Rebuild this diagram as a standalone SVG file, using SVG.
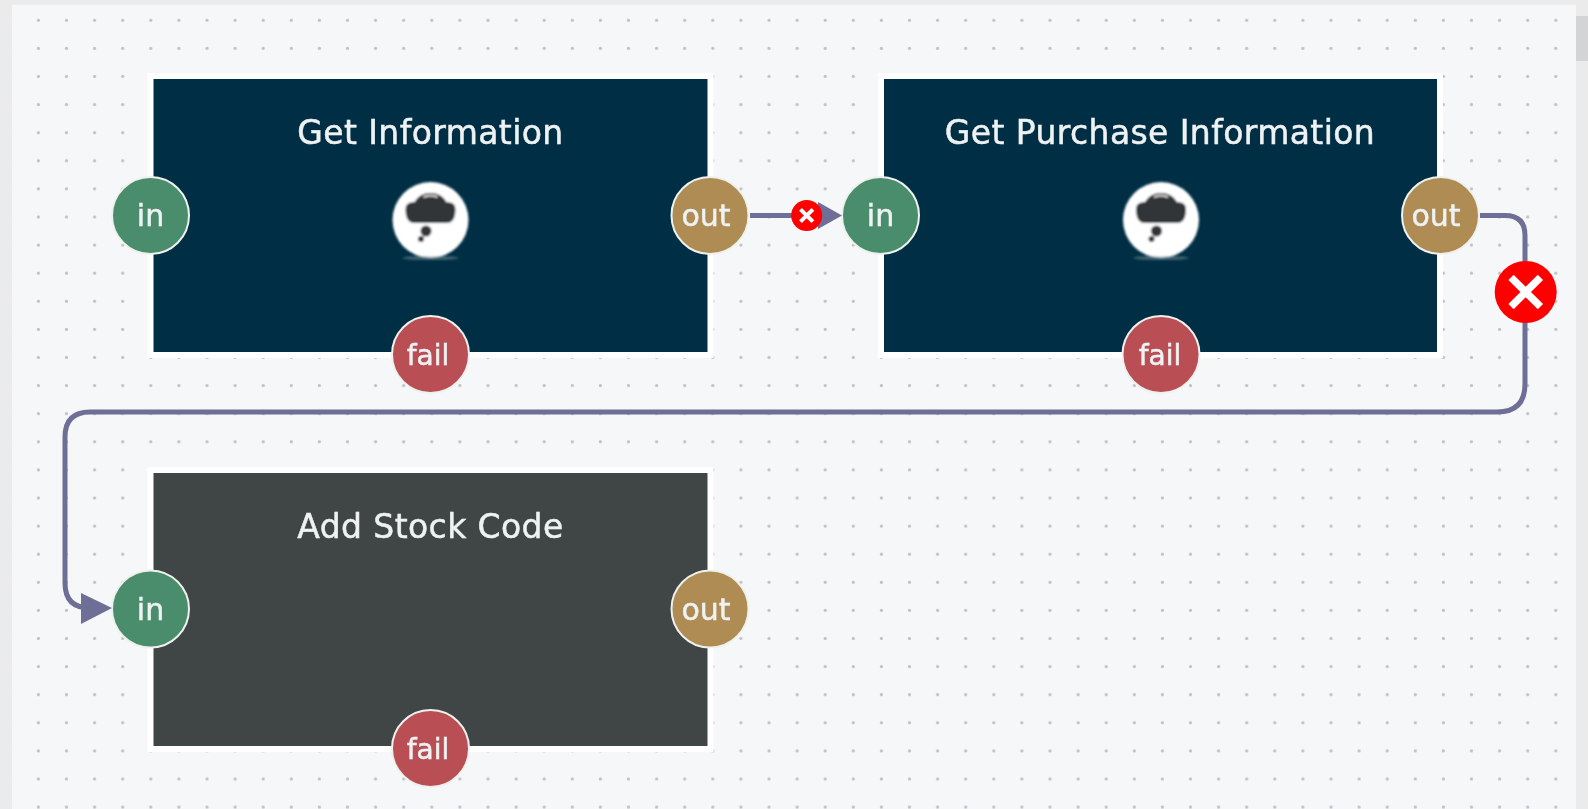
<svg xmlns="http://www.w3.org/2000/svg" width="1588" height="809" viewBox="0 0 1588 809">
<style>
text{font-family:"DejaVu Sans","Liberation Sans",sans-serif;fill:#eef2f3;text-anchor:middle;stroke:#eef2f3;stroke-width:.5}
.title{font-size:33px;letter-spacing:.4px}
.port{font-size:30px}
.fail{font-size:28px}
.box{stroke:#fff;stroke-width:6}
.ring{stroke:#eef1ee;stroke-width:2}
.conn{fill:none;stroke:#6e6e96;stroke-width:5}
.x{stroke:#fff;fill:none}
</style>
<defs>
<pattern id="dots" x="24.4" y="6.3" width="28.1" height="28.1" patternUnits="userSpaceOnUse"><circle cx="14" cy="14" r="1.6" fill="#c0c1c4"/></pattern>
<filter id="soft" x="-5%" y="-5%" width="110%" height="110%"><feGaussianBlur stdDeviation="0.75"/></filter>
<filter id="softer" x="-20%" y="-20%" width="140%" height="140%"><feGaussianBlur stdDeviation="1.2"/></filter>
<g id="cloud" filter="url(#softer)">
<circle cx="0" cy="0" r="38" fill="#fff"/>
<path d="M-25 -11 Q-25 -18 -16 -18 Q-11 -27 0 -27 Q11 -27 16 -18 Q25 -18 25 -11 Q25 3 16 3 H-16 Q-25 3 -25 -11Z" fill="#333538"/>
<path d="M-7 -23 Q0 -26 7 -23" stroke="#ddd" stroke-width="2" fill="none"/>
<circle cx="-4.5" cy="11" r="5.5" fill="#333538"/>
<circle cx="-9.5" cy="19" r="3" fill="#333538"/>
<ellipse cx="0" cy="38" rx="28" ry="2" fill="#9aa6ac" opacity=".45"/>
</g>
</defs>
<rect width="1588" height="809" fill="#ebebeb"/>
<rect x="1560" y="16" width="40" height="45" rx="8" fill="#d4d4d6"/>
<rect x="12" y="4.7" width="1564" height="805" fill="#f6f7f9"/>
<rect x="12" y="4.7" width="1564" height="805" fill="url(#dots)"/>
<g filter="url(#soft)">
<g id="node1">
<rect class="box" x="150.5" y="76" width="560" height="279" fill="#002f44"/>
<text class="title" x="430.5" y="144">Get Information</text>
<use href="#cloud" x="430.5" y="220"/>
<circle class="ring" cx="150.5" cy="215.5" r="38.5" fill="#4a8d6c"/><text class="port" x="150.5" y="226">in</text>
<circle class="ring" cx="710" cy="215.5" r="38.5" fill="#ae8c52"/><text class="port" x="706" y="226">out</text>
<circle class="ring" cx="430.5" cy="354.5" r="38.5" fill="#b94f55"/><text class="port fail" x="428" y="365">fail</text>
</g>
<g id="node2">
<rect class="box" x="881" y="76" width="559" height="279" fill="#002f44"/>
<text class="title" x="1160" y="144">Get Purchase Information</text>
<use href="#cloud" x="1161" y="220"/>
<circle class="ring" cx="880.5" cy="215.5" r="38.5" fill="#4a8d6c"/><text class="port" x="880.5" y="226">in</text>
<circle class="ring" cx="1440.5" cy="215.5" r="38.5" fill="#ae8c52"/><text class="port" x="1436" y="226">out</text>
<circle class="ring" cx="1161" cy="354.5" r="38.5" fill="#b94f55"/><text class="port fail" x="1160" y="365">fail</text>
</g>
<g id="node3">
<rect class="box" x="150.5" y="470" width="560" height="279" fill="#3f4545"/>
<text class="title" x="430.5" y="538">Add Stock Code</text>
<circle class="ring" cx="150.5" cy="609" r="38.5" fill="#4a8d6c"/><text class="port" x="150.5" y="620">in</text>
<circle class="ring" cx="710" cy="609" r="38.5" fill="#ae8c52"/><text class="port" x="706" y="620">out</text>
<circle class="ring" cx="430.5" cy="748.5" r="38.5" fill="#b94f55"/><text class="port fail" x="428" y="759">fail</text>
</g>
<g id="connectors">
<path class="conn" d="M750 215.5H825"/>
<path d="M842 215.5L818 202V229Z" fill="#6e6e96"/>
<circle cx="806.7" cy="215.5" r="15.5" fill="#f00"/>
<path class="x" stroke-width="4" d="M800.5 209.3L812.9 221.7M812.9 209.3L800.5 221.7"/>
<path class="conn" d="M1480 215.5H1505Q1525 215.5 1525 235.5V384Q1525 412 1497 412H90Q65 412 65 437V583Q65 608 90 608"/>
<path d="M112 608L81 593V624Z" fill="#6e6e96"/>
<circle cx="1525.7" cy="292" r="31" fill="#f00"/>
<path class="x" stroke-width="7.5" d="M1511 277.3L1540.4 306.7M1540.4 277.3L1511 306.7"/>
</g>
</g>
</svg>
